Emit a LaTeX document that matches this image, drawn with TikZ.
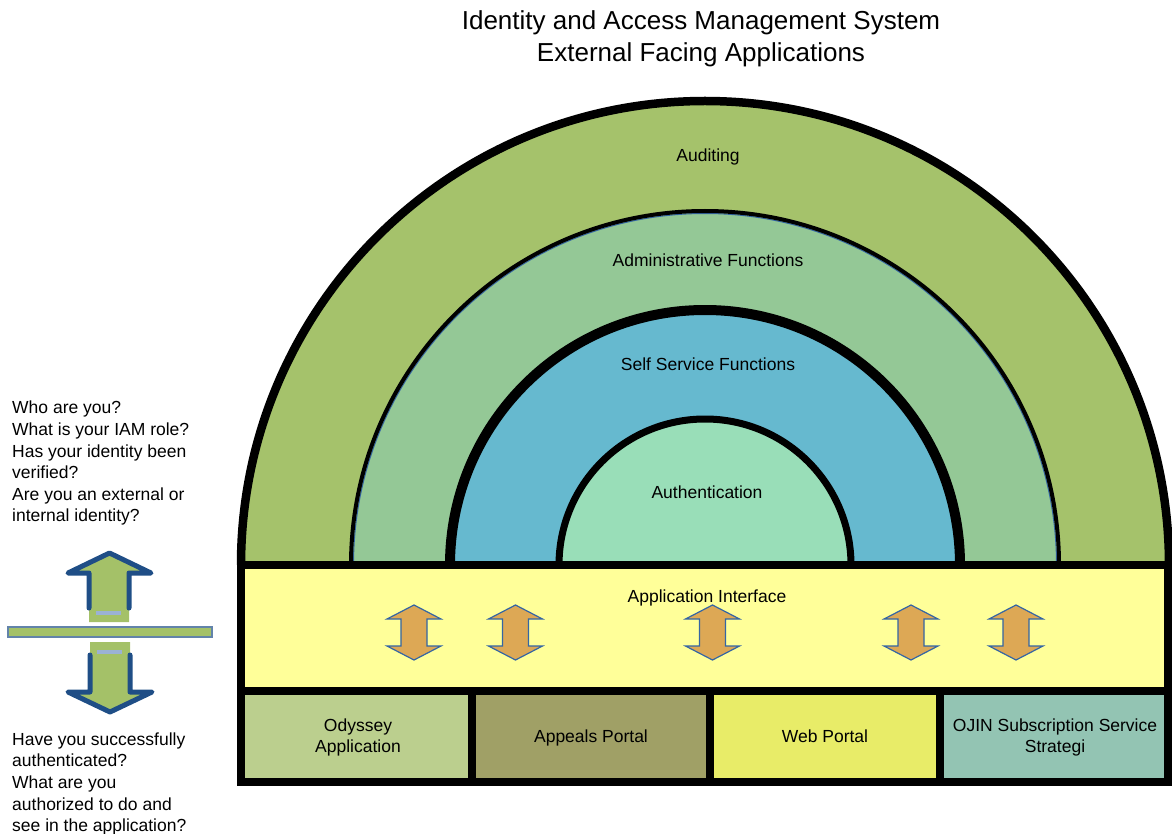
\documentclass[tikz,border=0pt]{standalone}
\usepackage{fontspec}
\setmainfont{Liberation Sans}
\usepackage{tikz}
\usetikzlibrary{positioning}
\usetikzlibrary{calc}

\definecolor{AuditGreen}{HTML}{A5C26B}
\definecolor{AdminGreen}{HTML}{94C896}
\definecolor{SelfBlue}{HTML}{66B9CF}
\definecolor{AuthGreen}{HTML}{99DEB8}
\definecolor{BandYellow}{HTML}{FFFF99}
\definecolor{OdysseyGreen}{HTML}{BBCF8E}
\definecolor{AppealsOlive}{HTML}{A0A066}
\definecolor{WebYellow}{HTML}{E8EC68}
\definecolor{OjinTeal}{HTML}{93C4B3}
\definecolor{ArrowOrange}{HTML}{DDA855}
\definecolor{ArrowEdge}{HTML}{3465A4}
\definecolor{GateGreen}{HTML}{A4C168}
\definecolor{GateBlue}{HTML}{1F4E86}
\definecolor{GateMark}{HTML}{9BB2D4}

\begin{document}
\begin{tikzpicture}[x=1pt, y=-1pt,
	frame/.style={draw=black, line width=8.5pt, inner sep=0pt, outer sep=0pt, minimum height=91pt},
	lbl/.style={font=\fontsize{17.5}{21.6}\selectfont, inner sep=0pt, align=center},
	updown/.pic={
		\path[fill=ArrowOrange, draw=ArrowEdge, line width=1.2pt]
			(0,-27.5) -- (27,-13.5) -- (13,-13.5) -- (13,13.5) -- (27,13.5)
			-- (0,27.5) -- (-27,13.5) -- (-13,13.5) -- (-13,-13.5) -- (-27,-13.5) -- cycle;
	}]

	\useasboundingbox (0,0) rectangle (1172,834);

	% ---------------------
	% Title
	\node[lbl, font=\fontsize{26}{32}\selectfont] (Title) at (701,39)
		{Identity and Access Management System\\External Facing Applications};

	% ---------------------
	% Half rings, outer to inner
	\coordinate (Centre) at (705,565);

	\path[fill=AuditGreen] (Centre) +(-464,0) arc[start angle=180, end angle=360, radius=464] -- cycle;
	\path[fill=AdminGreen] (Centre) +(-354,0) arc[start angle=180, end angle=360, radius=354] -- cycle;
	\path[fill=SelfBlue]   (Centre) +(-255,0) arc[start angle=180, end angle=360, radius=255] -- cycle;
	\path[fill=AuthGreen]  (Centre) +(-146,0) arc[start angle=180, end angle=360, radius=146] -- cycle;

	\draw[line width=8.5pt] (Centre) +(-464,0) arc[start angle=180, end angle=360, radius=464];
	\draw[ArrowEdge, line width=1pt] (Centre) +(-351.5,0) arc[start angle=180, end angle=360, radius=351.5];
	\draw[line width=4pt] (Centre) +(-354,0) arc[start angle=180, end angle=360, radius=354];
	\draw[line width=10pt] (Centre) +(-255,0) arc[start angle=180, end angle=360, radius=255];
	\draw[line width=7pt] (Centre) +(-146,0) arc[start angle=180, end angle=360, radius=146];

	\path (Centre) +(3,-408) node[lbl] (Auditing) {Auditing};
	\path (Centre) +(3,-305) node[lbl] (Admin) {Administrative Functions};
	\path (Centre) +(3,-201) node[lbl] (SelfService) {Self Service Functions};
	\path (Centre) +(2,-73) node[lbl] (Authentication) {Authentication};

	% ---------------------
	% Application interface band
	\node[frame, fill=BandYellow, minimum width=927pt, minimum height=126pt] (Interface) at (704.5,628) {};
	\path (Interface.north) +(2.5,33) node[lbl] (InterfaceLabel) {Application Interface};

	\coordinate (ArrowA) at (414,632.5);
	\coordinate (ArrowB) at (515.5,632.5);
	\coordinate (ArrowC) at (712.5,632.5);
	\coordinate (ArrowD) at (911,632.5);
	\coordinate (ArrowE) at (1016,632.5);

	\pic at (ArrowA) {updown};
	\pic at (ArrowB) {updown};
	\pic at (ArrowC) {updown};
	\pic at (ArrowD) {updown};
	\pic at (ArrowE) {updown};

	% ---------------------
	% Applications
	\node[frame, fill=OdysseyGreen, minimum width=231pt] (Odyssey) at (356.5,736.5) {};
	\node[frame, fill=AppealsOlive, minimum width=238pt, right=0pt of Odyssey] (Appeals) {};
	\node[frame, fill=WebYellow, minimum width=230pt, right=0pt of Appeals] (Web) {};
	\node[frame, fill=OjinTeal, minimum width=228pt, right=0pt of Web] (Ojin) {};

	\node[lbl] (OdysseyLabel) at ($(Odyssey)+(1.5,1)$) {Odyssey\\Application};
	\node[lbl] (AppealsLabel) at ($(Appeals)+(0,1)$) {Appeals Portal};
	\node[lbl] (WebLabel) at (Web) {Web Portal};
	\node[lbl] (OjinLabel) at ($(Ojin)+(1,1)$) {OJIN Subscription Service\\Strategi};

	% ---------------------
	% Gate with arrows on the left
	\coordinate (Gate) at (110,632);

	\path[fill=GateGreen, draw=GateBlue!70, line width=1.2pt] (8,627) rectangle (212,637);

	\path[fill=GateGreen] (89,622) -- (89,573) -- (68,573) -- (109.5,553) -- (151,573) -- (129,573) -- (129,622) -- cycle;
	\draw[GateBlue, line width=5pt, line cap=round, line join=round]
		(89,608) -- (89,573) -- (68,573) -- (109.5,553) -- (151,573) -- (129,573) -- (129,608);
	\path[fill=GateMark] (96,611) rectangle (121,615);

	\path[fill=GateGreen] (90,642) -- (90,692) -- (68,692) -- (110,712) -- (152,692) -- (130,692) -- (130,642) -- cycle;
	\draw[GateBlue, line width=5pt, line cap=round, line join=round]
		(90,655) -- (90,692) -- (68,692) -- (110,712) -- (152,692) -- (130,692) -- (130,655);
	\path[fill=GateMark] (97,650) rectangle (122,654);

	% ---------------------
	% Questions
	\node[lbl, align=left, anchor=north west] (Identify) at (12,401)
		{Who are you?\\What is your IAM role?\\Has your identity been\\verified?\\Are you an external or\\internal identity?};
	\node[lbl, align=left, anchor=north west] (Authorize) at (12,732.5)
		{Have you successfully\\authenticated?\\What are you\\authorized to do and\\see in the application?};

\end{tikzpicture}
\end{document}
